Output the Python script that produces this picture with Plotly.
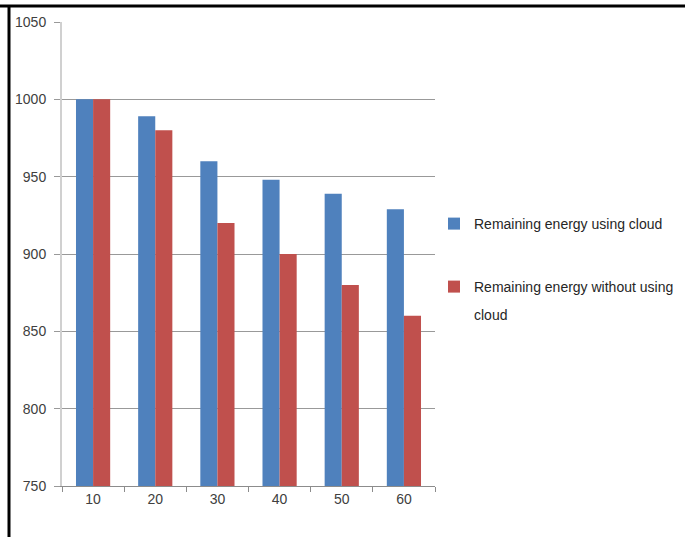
import plotly.graph_objects as go

# Node count on the x-axis, remaining energy on the y-axis
categories = ["10", "20", "30", "40", "50", "60"]
with_cloud = [1000, 989, 960, 948, 939, 929]
without_cloud = [1000, 980, 920, 900, 880, 860]
y_ticks = [750, 800, 850, 900, 950, 1000, 1050]

name_cloud = "Remaining energy using cloud"
name_no_cloud = "Remaining energy without using"
name_no_cloud_tail = "cloud"

W, H = 685, 537
L, R, T, B = 62, 250, 22, 51
pw, ph = W - L - R, H - T - B

fig = go.Figure()
fig.add_trace(go.Bar(x=categories, y=with_cloud, name=name_cloud,
                     marker=dict(color="#4f81bd", line=dict(width=0)),
                     legend="legend", showlegend=True))
fig.add_trace(go.Bar(x=categories, y=without_cloud, name=name_no_cloud,
                     marker=dict(color="#c0504d", line=dict(width=0)),
                     legend="legend2", showlegend=True))

tick_font = dict(family="Liberation Sans, Arial", size=14, color="#404040")
legend_font = dict(family="Liberation Sans, Arial", size=14, color="#262626")


def px_x(x):
    return (x - L) / pw


def px_y(y):
    return 1 - (y - T) / ph


LEG_X = 434

fig.update_layout(
    width=W, height=H,
    margin=dict(l=L, r=R, t=T, b=B, autoexpand=False),
    paper_bgcolor="white", plot_bgcolor="white",
    barmode="group", bargap=0.45, bargroupgap=0,
    xaxis=dict(type="category", showline=True, linecolor="#8c8c8c", linewidth=1,
               ticks="outside", tickson="boundaries", ticklen=5, tickcolor="#8c8c8c",
               tickfont=tick_font, showgrid=False),
    yaxis=dict(range=[750, 1050], tickvals=y_ticks, showgrid=True,
               gridcolor="#999999", gridwidth=1, zeroline=False,
               showline=True, linecolor="#d0d0d0", linewidth=2,
               ticks="outside", ticklen=6, tickcolor="#999999",
               tickfont=tick_font, ticklabelstandoff=5),
    legend=dict(xref="container", yref="container",
                x=LEG_X / W, y=1 - 224 / H, xanchor="left", yanchor="middle",
                font=legend_font, bgcolor="rgba(0,0,0,0)", itemwidth=30),
    legend2=dict(xref="container", yref="container",
                 x=LEG_X / W, y=1 - 287 / H, xanchor="left", yanchor="middle",
                 font=legend_font, bgcolor="rgba(0,0,0,0)", itemwidth=30),
    annotations=[
        dict(text=name_no_cloud_tail, xref="paper", yref="paper",
             x=px_x(LEG_X + 38), y=px_y(315), xanchor="left", yanchor="middle",
             showarrow=False, font=legend_font),
    ],
    shapes=[
        dict(type="line", xref="paper", yref="paper",
             x0=px_x(0), x1=px_x(W), y0=px_y(6), y1=px_y(6),
             line=dict(color="black", width=3)),
        dict(type="line", xref="paper", yref="paper",
             x0=px_x(9), x1=px_x(9), y0=px_y(6), y1=px_y(H),
             line=dict(color="black", width=3)),
    ],
)

fig.write_html("out.html")
